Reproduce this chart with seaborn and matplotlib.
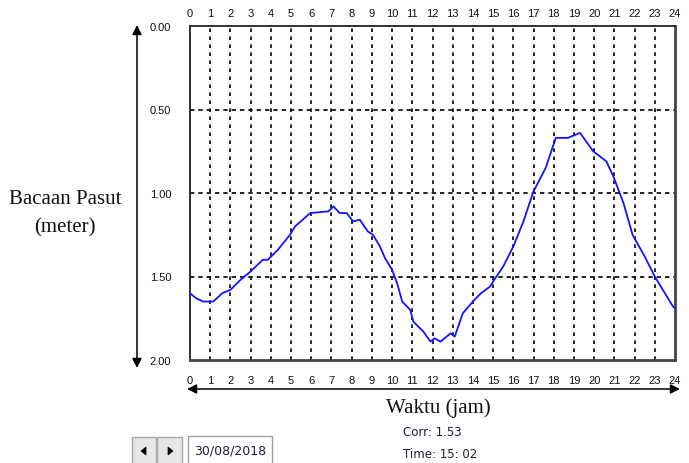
import matplotlib
matplotlib.use("Agg")
import matplotlib.pyplot as plt
from matplotlib.patches import FancyArrowPatch, Rectangle, Polygon
import seaborn as sns
import pandas as pd

# Tide gauge readings over one day (hour of day, water level in metres)
hours = [0.0, 0.3, 0.65, 1.15, 1.6, 2.0, 2.5, 3.0, 3.6, 3.85, 4.35, 4.95, 5.2,
         5.95, 6.85, 7.1, 7.4, 7.75, 8.07, 8.4, 8.8, 9.05, 9.4, 9.65, 10.0,
         10.25, 10.5, 10.9, 11.05, 11.55, 11.9, 12.1, 12.4, 12.9, 13.1, 13.5,
         14.0, 14.4, 14.85, 15.0, 15.5, 16.0, 16.5, 17.0, 17.6, 18.1, 18.7,
         19.3, 19.95, 20.6, 20.95, 21.45, 21.9, 22.5, 23.0, 23.5, 23.9, 24.0]
levels = [1.60, 1.63, 1.65, 1.65, 1.60, 1.58, 1.52, 1.47, 1.40, 1.40, 1.34, 1.25,
          1.20, 1.12, 1.11, 1.08, 1.12, 1.12, 1.17, 1.16, 1.23, 1.25, 1.32, 1.39,
          1.46, 1.54, 1.65, 1.70, 1.77, 1.83, 1.89, 1.87, 1.89, 1.84, 1.86, 1.72,
          1.65, 1.60, 1.56, 1.53, 1.44, 1.32, 1.17, 0.99, 0.85, 0.67, 0.67, 0.64,
          0.75, 0.81, 0.90, 1.06, 1.25, 1.38, 1.50, 1.60, 1.68, 1.69]

hour_ticks = list(range(0, 25))
level_ticks = [0.0, 0.5, 1.0, 1.5, 2.0]
level_labels = ["0.00", "0.50", "1.00", "1.50", "2.00"]

corr_text = "Corr: 1.53"
time_text = "Time: 15: 02"
date_text = "30/08/2018"

df = pd.DataFrame({"jam": hours, "pasut": levels})

sns.set_style("white")
plt.rcParams["font.family"] = ["Liberation Sans", "DejaVu Sans"]

W, H = 689, 464
fig = plt.figure(figsize=(W / 100, H / 100), dpi=100)
fig.patch.set_facecolor("white")

def fx(px):
    return px / W

def fy(py):
    return 1 - py / H

ax = fig.add_axes([fx(190), fy(361), fx(675) - fx(190), fy(27) - fy(361)])

# dashed grid
for h in range(1, 24):
    ax.axvline(h, color="black", lw=1.2, ls=(0, (2.2, 2.6)), zorder=1)
for v in [0.5, 1.0, 1.5]:
    ax.axhline(v, color="black", lw=1.2, ls=(0, (2.6, 2.4)), zorder=1)

sns.lineplot(data=df, x="jam", y="pasut", ax=ax, color="#1414ff", lw=1.3,
             zorder=3, legend=False)

ax.set_xlim(0, 24)
ax.set_ylim(2.0, 0.0)
ax.set_xticks(hour_ticks)
ax.set_xticklabels([str(h) for h in hour_ticks])
ax.set_yticks(level_ticks)
ax.set_yticklabels(level_labels)
ax.set_xlabel("")
ax.set_ylabel("")
ax.tick_params(axis="x", length=0, labelsize=8, pad=11, labelcolor="#111111")
ax.tick_params(axis="y", length=0, labelsize=8, pad=13.5, labelcolor="#111111")

# hour labels repeated above the frame
top = ax.secondary_xaxis("top")
top.set_xticks(hour_ticks)
top.set_xticklabels([str(h) for h in hour_ticks])
top.tick_params(length=0, labelsize=8, pad=6, labelcolor="#111111")
top.spines["top"].set_visible(False)

for side in ["left", "top"]:
    ax.spines[side].set_color("#222222")
    ax.spines[side].set_linewidth(1.3)
for side in ["right", "bottom"]:
    ax.spines[side].set_color("#444444")
    ax.spines[side].set_linewidth(2.0)

# double-headed axis arrows
arr_v = FancyArrowPatch((fx(137), fy(26)), (fx(137), fy(369)),
                        transform=fig.transFigure, arrowstyle="<|-|>",
                        mutation_scale=14, lw=1.1, color="black",
                        shrinkA=0, shrinkB=0)
fig.add_artist(arr_v)
arr_h = FancyArrowPatch((fx(187), fy(390)), (fx(680), fy(390)),
                        transform=fig.transFigure, arrowstyle="<|-|>",
                        mutation_scale=14, lw=1.1, color="black",
                        shrinkA=0, shrinkB=0)
fig.add_artist(arr_h)

# axis titles
fig.text(fx(65), fy(200), "Bacaan Pasut", family="Liberation Serif",
         fontsize=15, ha="center", va="center", color="#111111")
fig.text(fx(65), fy(228), "(meter)", family="Liberation Serif",
         fontsize=15, ha="center", va="center", color="#111111")
fig.text(fx(438), fy(408), "Waktu (jam)", family="Liberation Serif",
         fontsize=15, ha="center", va="center", color="#111111")

# readout
fig.text(fx(403), fy(433), corr_text, fontsize=8.5, family="DejaVu Sans",
         ha="left", va="center", color="#1e1e3c")
fig.text(fx(403), fy(455), time_text, fontsize=8.5, family="DejaVu Sans",
         ha="left", va="center", color="#1e1e3c")

# navigation buttons and date box
for x0, x1, pts in [(132, 156, [(146, 448), (146, 456), (141, 452)]),
                    (157, 182, [(168, 448), (168, 456), (173, 452)])]:
    fig.add_artist(Rectangle((fx(x0), fy(466)), fx(x1) - fx(x0), fy(438) - fy(466),
                             transform=fig.transFigure, facecolor="#e6e6e6",
                             edgecolor="#a8a8a8", lw=1.0))
    fig.add_artist(Polygon([(fx(a), fy(b)) for a, b in pts], closed=True,
                           transform=fig.transFigure, facecolor="black",
                           edgecolor="black", lw=0.5))
fig.add_artist(Rectangle((fx(188), fy(466)), fx(272) - fx(188), fy(437) - fy(466),
                         transform=fig.transFigure, facecolor="white",
                         edgecolor="#a0a0a0", lw=1.0))
fig.text(fx(230), fy(451), date_text, fontsize=9, family="DejaVu Sans",
         ha="center", va="center", color="#1e1e3c")

fig.savefig("out.png", dpi=100, facecolor="white")
